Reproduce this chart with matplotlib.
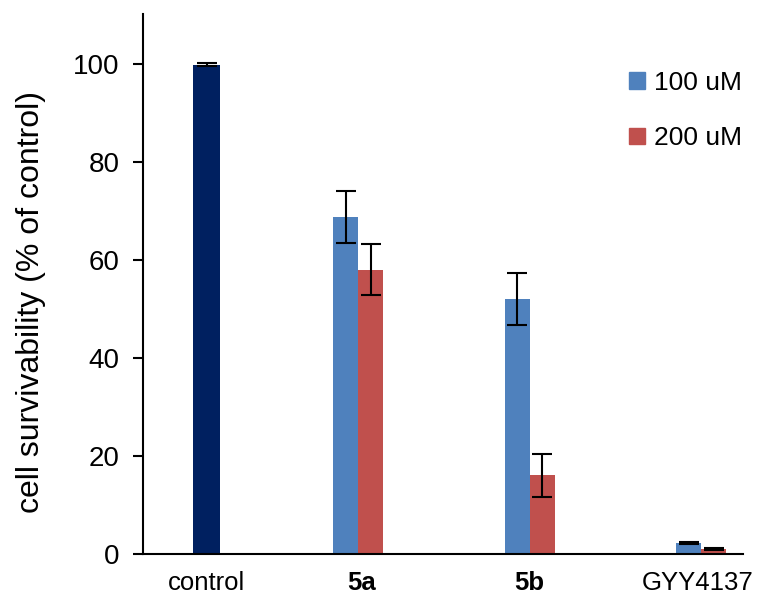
import numpy as np
import matplotlib.pyplot as plt
from matplotlib.patches import Patch

plt.rcParams['font.family'] = ['Liberation Sans', 'DejaVu Sans']

categories = ['control', '5a', '5b', 'GYY4137']
control_value = 99.8
control_err = 0.3
conc_100 = [68.8, 52.0, 2.2]
conc_100_err = [5.3, 5.3, 0.2]
conc_200 = [58.0, 16.1, 1.0]
conc_200_err = [5.2, 4.4, 0.2]

navy = '#002060'
blue = '#4F81BD'
red = '#C0504D'

fig = plt.figure(figsize=(7.6, 5.98), dpi=100)
ax = fig.add_axes([0.188, 0.0736, 0.79, 0.903])

w = 0.146
x = np.arange(1, len(categories))
ctrl_x = 0.117

err_kw = dict(ecolor='black', capsize=7, elinewidth=1.5, capthick=1.5)
ax.bar(ctrl_x, control_value, w * 1.08, color=navy, yerr=control_err, error_kw=err_kw)
ax.bar(x - w / 2, conc_100, w, color=blue, yerr=conc_100_err, error_kw=err_kw)
ax.bar(x + w / 2, conc_200, w, color=red, yerr=conc_200_err, error_kw=err_kw)

ax.set_xlim(-0.254, 3.245)
ax.set_ylim(0, 110.2)
ax.set_yticks(np.arange(0, 101, 20))
ax.set_xticks([ctrl_x, 1.02, 2.0, 2.98])
ax.set_xticklabels(categories, fontsize=18.5)
for lbl in ax.get_xticklabels()[1:3]:
    lbl.set_fontweight('bold')
ax.tick_params(axis='y', labelsize=20, length=7, width=1.5, direction='out', pad=10)
ax.tick_params(axis='x', length=0, pad=12)

for side in ['top', 'right']:
    ax.spines[side].set_visible(False)
ax.spines['left'].set_linewidth(1.5)
ax.spines['bottom'].set_linewidth(1.5)

ax.set_ylabel('cell survivability (% of control)', fontsize=23)
ax.yaxis.set_label_coords(-0.162, 0.467)

handles = [Patch(color=blue, label='100 uM'), Patch(color=red, label='200 uM')]
fig.legend(handles=handles, loc='upper left', bbox_to_anchor=(0.828, 0.882), frameon=False,
           fontsize=19, handlelength=0.6, handleheight=0.6, handletextpad=0.35,
           labelspacing=1.2, borderpad=0, borderaxespad=0)

fig.savefig('out.png', dpi=100)
